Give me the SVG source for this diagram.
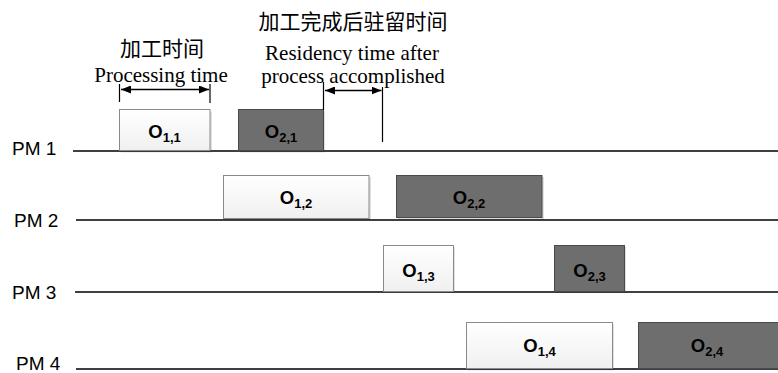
<svg xmlns="http://www.w3.org/2000/svg" width="778" height="373" viewBox="0 0 778 373">
  <defs>
    <linearGradient id="lightFill" x1="0" y1="0" x2="0" y2="1">
      <stop offset="0" stop-color="#ffffff"/>
      <stop offset="1" stop-color="#f0f0f0"/>
    </linearGradient>
    <marker id="head" viewBox="0 0 10 8" refX="10" refY="4" markerWidth="10" markerHeight="8" markerUnits="userSpaceOnUse" orient="auto-start-reverse">
      <path d="M0,0 L10,4 L0,8 Z" fill="#000"/>
    </marker>
  </defs>
  <style>
    .axis { stroke: #000; stroke-width: 1.5; fill: none; }
    .tick { stroke: #000; stroke-width: 1.2; fill: none; }
    .dim { stroke: #000; stroke-width: 1.5; fill: none; marker-start: url(#head); marker-end: url(#head); }
    .shadow { fill: #000; opacity: 0.12; }
    .light { fill: url(#lightFill); stroke: #8a8a8a; stroke-width: 1; }
    .dark { fill: #6e6e6e; stroke: #4a4a4a; stroke-width: 1; }
    .pm { font-family: "Liberation Sans", Arial, sans-serif; font-size: 19px; fill: #000; }
    .op { font-family: "Liberation Sans", Arial, sans-serif; font-size: 18.5px; font-weight: bold; fill: #000; text-anchor: middle; }
    .sub { font-size: 13px; }
    .note { font-family: "Liberation Serif", "Noto Sans CJK SC", serif; font-size: 21px; fill: #000; text-anchor: middle; }
  </style>

  <!-- machine time lines -->
  <g id="axes">
    <line class="axis" x1="73" y1="151" x2="778" y2="151"/>
    <line class="axis" x1="76" y1="220" x2="778" y2="220"/>
    <line class="axis" x1="75" y1="292" x2="778" y2="292"/>
    <line class="axis" x1="76" y1="369" x2="778" y2="369"/>
    <text class="pm" x="12" y="155">PM 1</text>
    <text class="pm" x="14" y="227">PM 2</text>
    <text class="pm" x="12" y="299">PM 3</text>
    <text class="pm" x="16" y="370">PM 4</text>
  </g>

  <!-- operations on PM 1 -->
  <g id="o11">
    <rect class="shadow" x="121" y="111.5" width="91" height="41"/>
    <rect class="light" x="119.5" y="109.5" width="90.5" height="41"/>
    <text class="op" x="164.5" y="137.5">O<tspan class="sub" dy="4">1,1</tspan></text>
  </g>
  <g id="o21">
    <rect class="shadow" x="240" y="111.5" width="85" height="41"/>
    <rect class="dark" x="238.5" y="109.5" width="85" height="41"/>
    <text class="op" x="281" y="137.5">O<tspan class="sub" dy="4">2,1</tspan></text>
  </g>

  <!-- operations on PM 2 -->
  <g id="o12">
    <rect class="shadow" x="225" y="177" width="146" height="43"/>
    <rect class="light" x="223.5" y="175.5" width="145.5" height="43"/>
    <text class="op" x="296" y="204">O<tspan class="sub" dy="4">1,2</tspan></text>
  </g>
  <g id="o22">
    <rect class="shadow" x="398" y="177" width="146" height="43"/>
    <rect class="dark" x="396.5" y="175.5" width="145.5" height="42"/>
    <text class="op" x="469" y="203.5">O<tspan class="sub" dy="4">2,2</tspan></text>
  </g>

  <!-- operations on PM 3 -->
  <g id="o13">
    <rect class="shadow" x="385" y="247" width="70" height="46"/>
    <rect class="light" x="383.5" y="245.5" width="70" height="46"/>
    <text class="op" x="418.5" y="276.5">O<tspan class="sub" dy="4">1,3</tspan></text>
  </g>
  <g id="o23">
    <rect class="shadow" x="556" y="247" width="70" height="46"/>
    <rect class="dark" x="554.5" y="245.5" width="70" height="46"/>
    <text class="op" x="589.5" y="276.5">O<tspan class="sub" dy="4">2,3</tspan></text>
  </g>

  <!-- operations on PM 4 -->
  <g id="o14">
    <rect class="shadow" x="468" y="324.5" width="146" height="46"/>
    <rect class="light" x="466.5" y="322.5" width="146" height="46"/>
    <text class="op" x="539.5" y="352">O<tspan class="sub" dy="4">1,4</tspan></text>
  </g>
  <g id="o24">
    <rect class="dark" x="638.5" y="322.5" width="141" height="46"/>
    <text class="op" x="707" y="352">O<tspan class="sub" dy="4">2,4</tspan></text>
  </g>

  <!-- dimension annotations -->
  <g id="connectors">
    <line class="tick" x1="119.5" y1="84" x2="119.5" y2="102"/>
    <line class="tick" x1="210" y1="84" x2="210" y2="103"/>
    <line class="dim" x1="121" y1="89.5" x2="209" y2="89.5"/>
    <line class="tick" x1="323.5" y1="82" x2="323.5" y2="110"/>
    <line class="tick" x1="382.5" y1="87" x2="382.5" y2="142"/>
    <line class="dim" x1="325" y1="90.5" x2="381.5" y2="90.5"/>
  </g>

  <!-- annotation texts -->
  <g id="labels">
    <text class="note" x="162" y="56">加工时间</text>
    <text class="note" x="161" y="82">Processing time</text>
    <text class="note" x="353" y="29">加工完成后驻留时间</text>
    <text class="note" x="352" y="60">Residency time after</text>
    <text class="note" x="353" y="83">process accomplished</text>
  </g>
</svg>
